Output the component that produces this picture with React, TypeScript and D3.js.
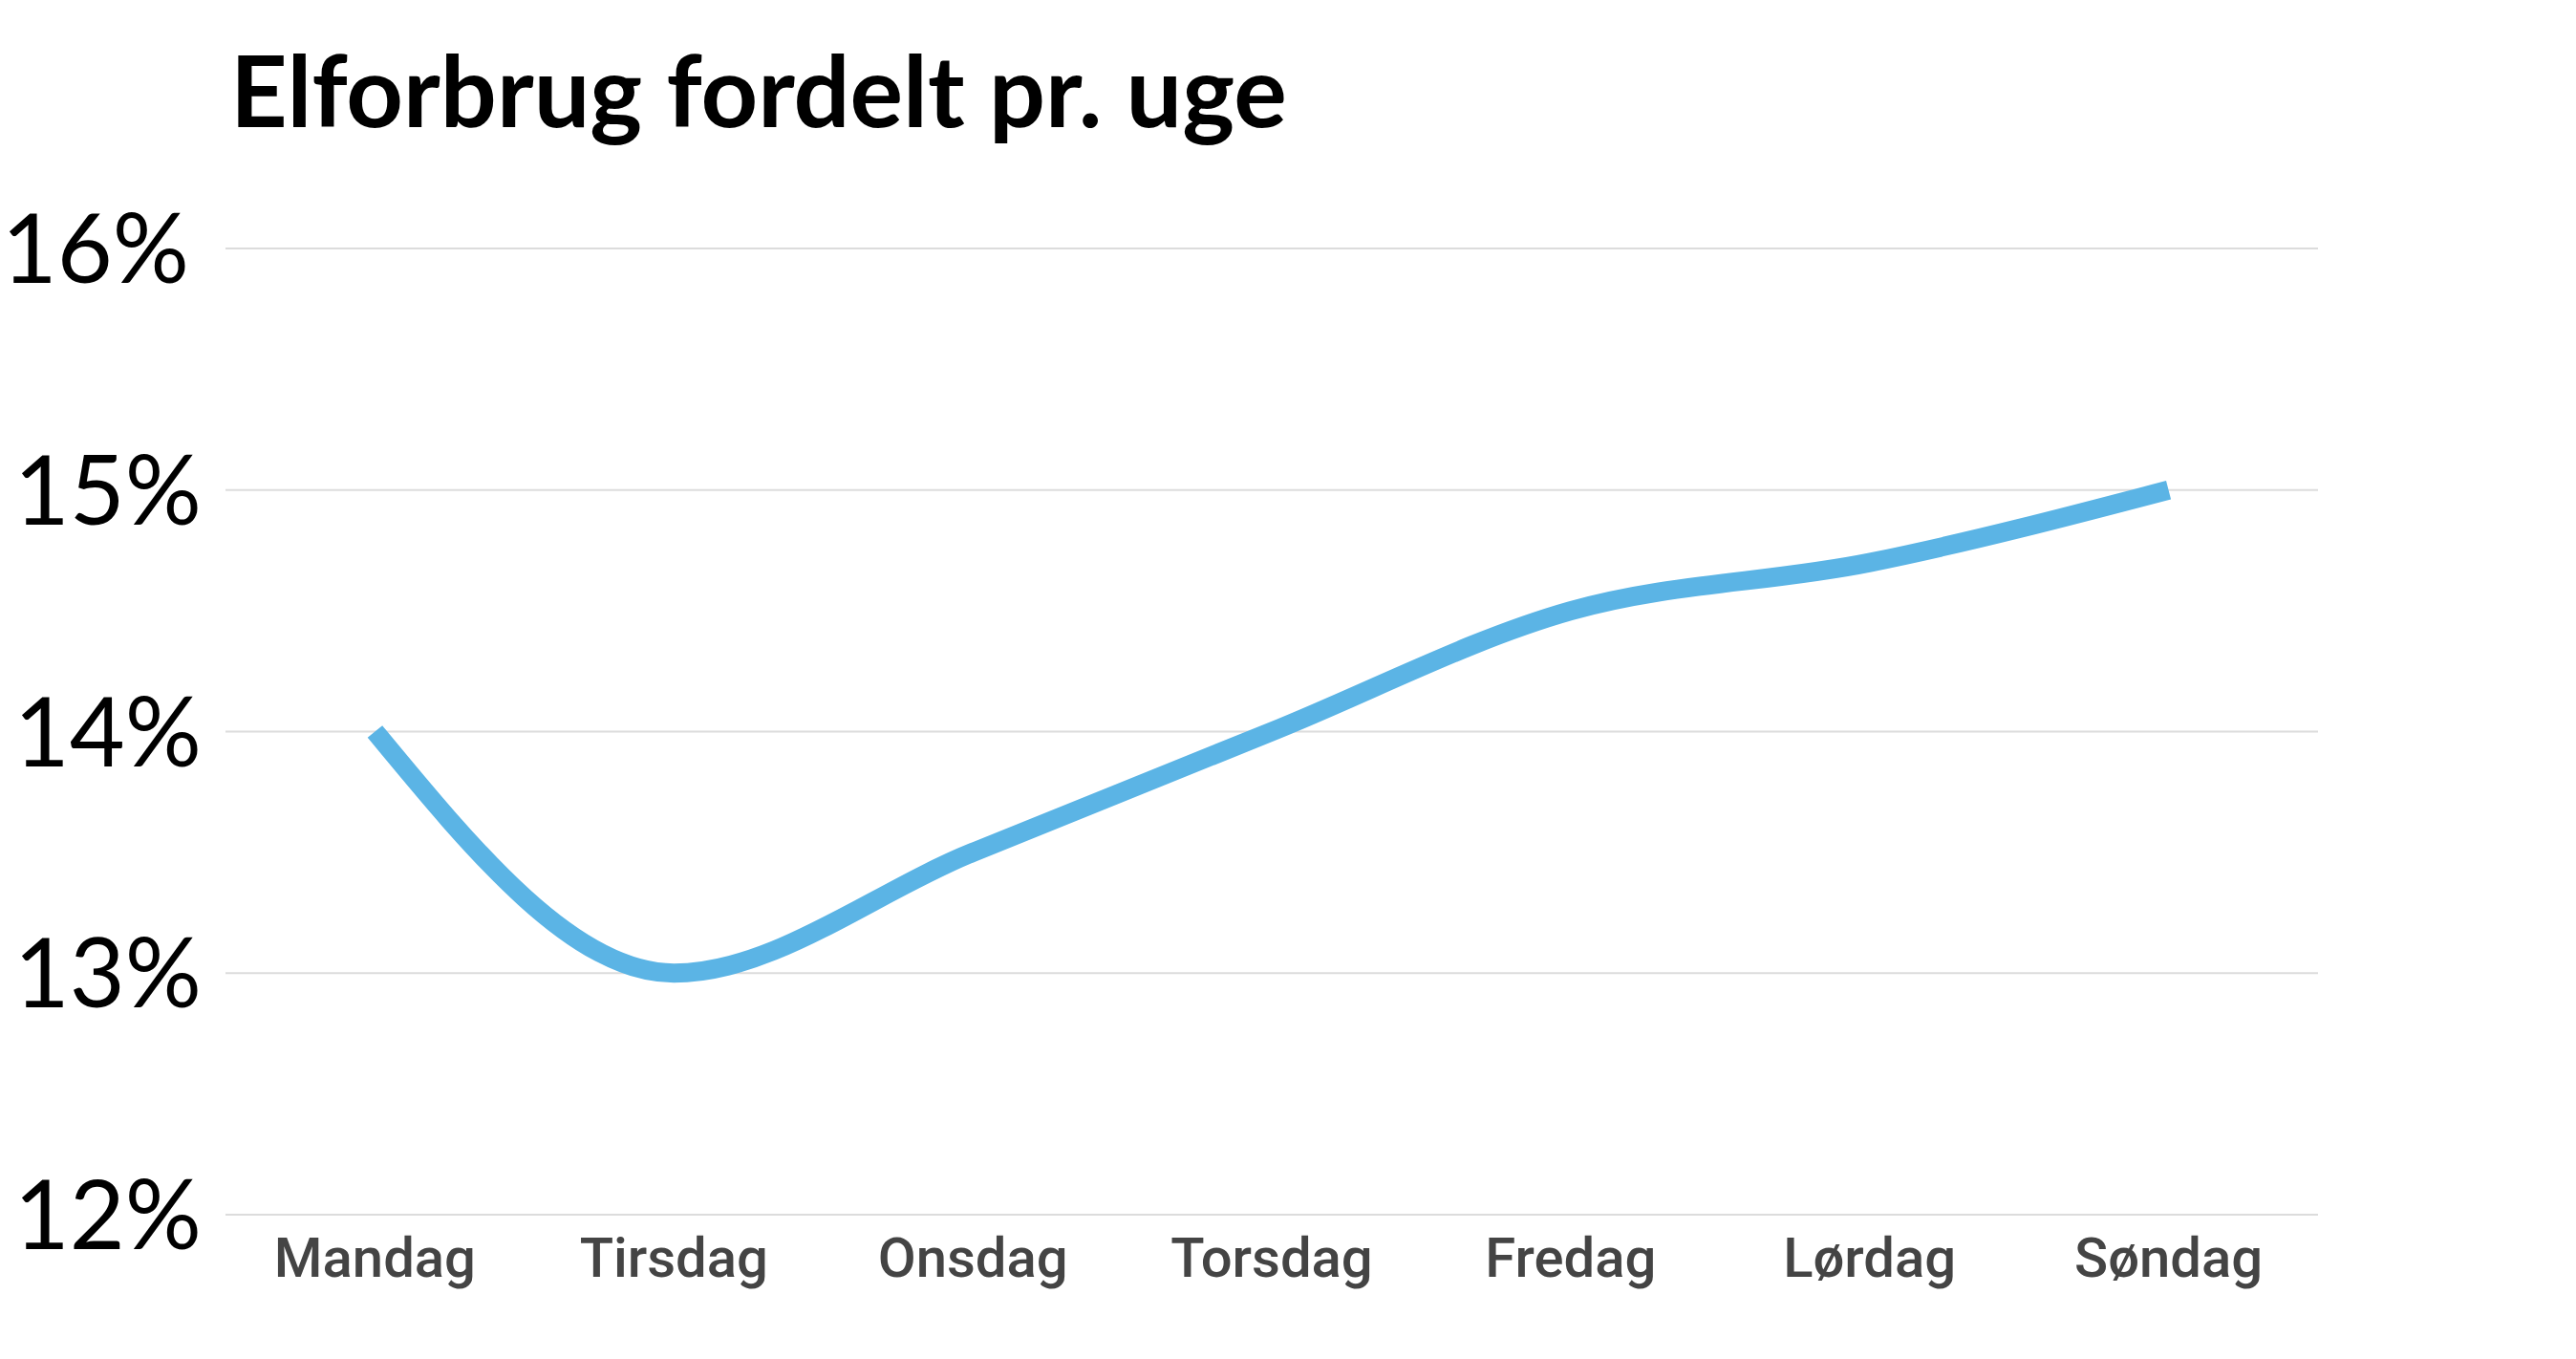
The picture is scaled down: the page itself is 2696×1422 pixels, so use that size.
import React from "react";
import * as d3 from "d3";

const days = ["Mandag", "Tirsdag", "Onsdag", "Torsdag", "Fredag", "Lørdag", "Søndag"];
const shares = [14.0, 13.0, 13.5, 14.0, 14.5, 14.7, 15.0];
const yTicks = [12, 13, 14, 15, 16];
const title = "Elforbrug fordelt pr. uge";

const W = 2696;
const H = 1422;
const left = 236;
const right = 2426;
const top = 260;
const bottom = 1271;

export default function App() {
  const x = d3.scaleBand<string>().domain(days).range([left, right]);
  const y = d3.scaleLinear().domain([12, 16]).range([bottom, top]);
  const line = d3
    .line<number>()
    .x((_, i) => (x(days[i]) as number) + x.bandwidth() / 2)
    .y((d) => y(d))
    .curve(d3.curveMonotoneX);

  return (
    <svg width={W} height={H} style={{ position: "absolute", left: 0, top: 0, background: "#fff" }}>
      <text x={241} y={133} fontFamily="Lato" fontWeight={700} fontSize={104} fill="#000">
        {title}
      </text>
      {yTicks.map((t) => (
        <g key={t}>
          <line x1={left} x2={right} y1={y(t)} y2={y(t)} stroke="#dcdcdc" strokeWidth={2} />
          <text
            x={t === 16 ? 198 : 211}
            y={y(t)}
            dy="0.36em"
            textAnchor="end"
            fontFamily="Lato"
            fontWeight={400}
            fontSize={100}
            fill="#000"
          >
            {t}%
          </text>
        </g>
      ))}
      {days.map((d) => (
        <text
          key={d}
          x={(x(d) as number) + x.bandwidth() / 2}
          y={1336}
          textAnchor="middle"
          fontFamily="Roboto"
          fontWeight={500}
          fontSize={58}
          fill="#444"
        >
          {d}
        </text>
      ))}
      <path d={line(shares) || ""} fill="none" stroke="#5bb4e5" strokeWidth={20} />
    </svg>
  );
}
